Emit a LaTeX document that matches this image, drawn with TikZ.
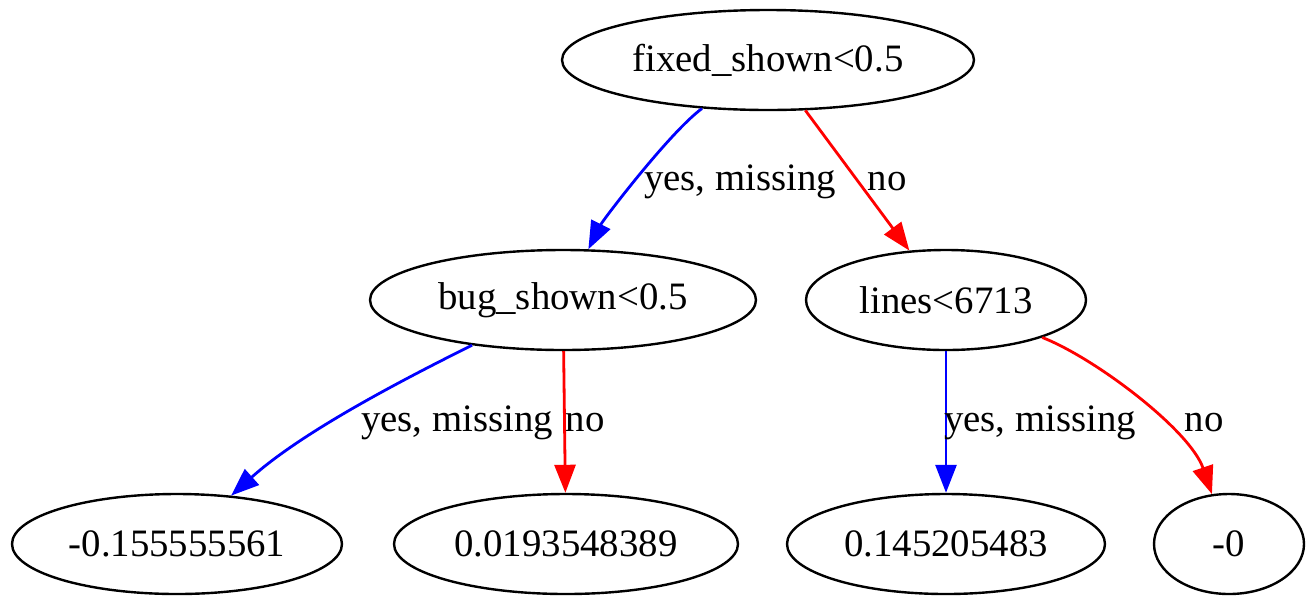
\documentclass[tikz,border=0pt]{standalone}
\usepackage{fontspec}
\setmainfont{Liberation Serif}
\usepackage{tikz}
\usetikzlibrary{arrows.meta, shapes.geometric}

\tikzset{
  split/.style={draw, ellipse, line width=2.4pt, inner sep=0pt, minimum height=100pt, font=\fontsize{38.8}{46}\selectfont},
  lbl/.style={inner sep=0pt, font=\fontsize{38.8}{46}\selectfont},
  yesedge/.style={draw=blue, line width=2.8pt, -{Triangle[length=28pt, width=21pt, fill=blue]}},
  noedge/.style={draw=red, line width=2.8pt, -{Triangle[length=28pt, width=21pt, fill=red]}}
}

\begin{document}
\begin{tikzpicture}[x=1pt, y=-1pt]
            \useasboundingbox (0,0) rectangle (1316,606);
            \node[split, minimum width=412pt] (fixed) at (768,60) {fixed\_shown<0.5};
            \node[split, minimum width=386pt] (bug) at (563,300) {bug\_shown<0.5};
            \node[split, minimum width=280pt] (lines) at (946,300) {lines<6713};
            \node[split, minimum width=330pt] (leafa) at (177,544) {-0.155555561};
            \node[split, minimum width=344pt] (leafb) at (566,544) {0.0193548389};
            \node[split, minimum width=318pt] (leafc) at (946,544) {0.145205483};
            \node[split, minimum width=150pt] (leafd) at (1229,544) {-0};
            % edges
            \draw[yesedge] (fixed) .. controls (670,132) and (603,220) .. (bug);
            \draw[noedge] (fixed) -- (lines);
            \draw[yesedge] (bug) .. controls (392,385) and (300,434) .. (leafa);
            \draw[noedge] (bug) -- (leafb);
            \draw[yesedge] (lines) -- (leafc);
            \draw[noedge] (lines) .. controls (1095,358) and (1190,430) .. (leafd);
            % edge labels
            \node[lbl] (yfixed) at (740,182) {yes, missing};
            \node[lbl] (nfixed) at (887,182) {no};
            \node[lbl] (ybug) at (457,423) {yes, missing};
            \node[lbl] (nbug) at (585,423) {no};
            \node[lbl] (ylines) at (1040,423) {yes, missing};
            \node[lbl] (nlines) at (1204,423) {no};
        \end{tikzpicture}
\end{document}
